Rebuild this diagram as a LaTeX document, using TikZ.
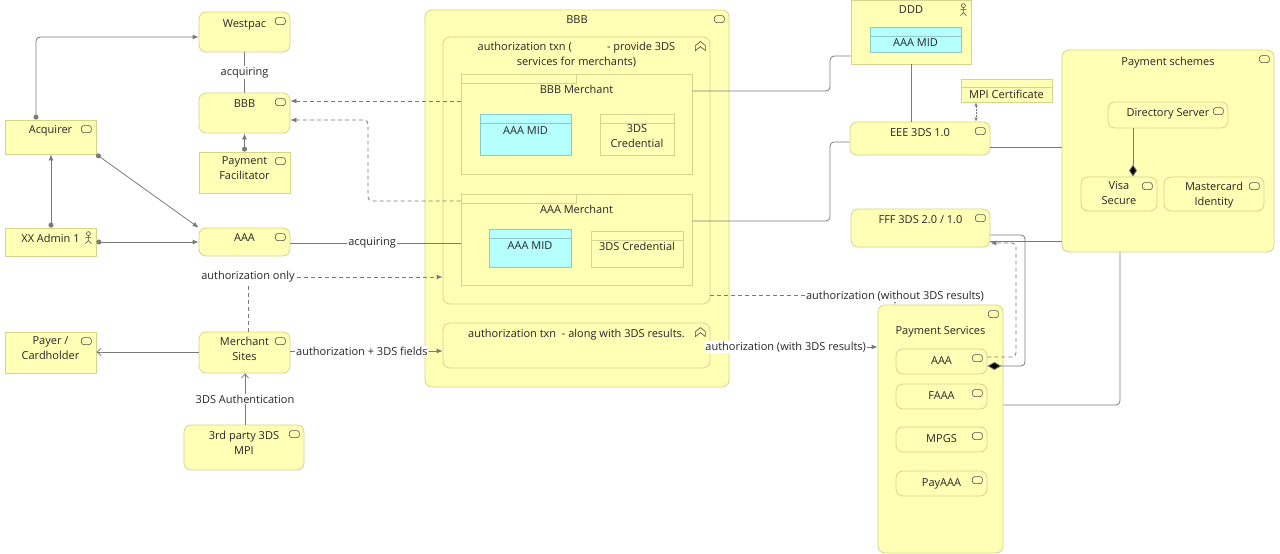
\documentclass[tikz,border=0pt]{standalone}
\usepackage{fontspec}
\setmainfont{Open Sans}
\usetikzlibrary{fit,calc,arrows.meta}
\definecolor{yel}{HTML}{FFFFB5}
\definecolor{yb}{HTML}{D4D48C}
\definecolor{cy}{HTML}{B5FFFF}
\definecolor{cb}{HTML}{8CC8C8}
\definecolor{ln}{HTML}{7A7A7A}
\tikzset{
  x=1pt,y=-1pt,
  base/.style={draw=yb,fill=yel,inner sep=0pt,line width=0.8pt},
  rbox/.style={base,rounded corners=7pt},
  sbox/.style={base},
  cbox/.style={draw=cb,fill=cy,inner sep=0pt,line width=0.8pt},
  txt/.style={font=\fontsize{11}{15}\selectfont,align=center,text=black!85,inner sep=1pt},
  icon/.style={draw=black!70,line width=0.6pt,fill=none},
  con/.style={draw=ln,line width=0.8pt,rounded corners=4pt},
  dsh/.style={con,dashed,dash pattern=on 4pt off 3pt},
  tip/.style={-{Latex[length=6pt,width=5pt]}},
  dot/.style={{Circle[length=5pt]}-{Latex[length=6pt,width=5pt]}},
  lbl/.style={txt,fill=white,inner sep=1pt},
}
\newcommand\bx[8]{\node[#6,fit={(#2,#3)(#4,#5)}] (#1) {};
  \node[txt,anchor=north] at ($(#1.north)+(0,#8+4)$) {#7};}
\newcommand\svc[1]{\draw[icon,rounded corners=2.5pt] ($(#1.north east)+(-15,6)$) rectangle ++(10,7);}
\newcommand\actor[1]{\begin{scope}[shift={($(#1.north east)+(-8,4)$)}]
 \draw[icon] (0,2) circle (2); \draw[icon] (0,4)--(0,9) (-3,6)--(3,6) (-3,12)--(0,9)--(3,12);\end{scope}}
\newcommand\func[1]{\draw[icon] ($(#1.north east)+(-15,14)$) -- ++(0,-5) -- ++(5,-4) -- ++(5,4) -- ++(0,5) -- ++(-5,-4) -- cycle;}
\newcommand\tab[3]{\draw[draw=yb,line width=0.8pt] (#1) rectangle (#2,#3);}
\begin{document}
\begin{tikzpicture}
\useasboundingbox (0,0) rectangle (1280,554);
\bx{wp}{199}{12}{290}{52}{rbox}{Westpac}{3}\svc{wp}
\bx{bbs}{199}{93}{290}{133}{rbox}{BBB}{2}\svc{bbs}
\bx{pf}{199}{152}{290}{193}{sbox}{Payment\\Facilitator}{0}\svc{pf}
\bx{acq}{5}{120}{96}{154}{sbox}{Acquirer}{1}\svc{acq}
\bx{xx}{5}{228}{96}{256}{sbox}{XX Admin 1}{1}\actor{xx}
\bx{aaa}{199}{228}{290}{256}{rbox}{AAA}{1}\svc{aaa}
\bx{pay}{5}{332}{96}{373}{sbox}{Payer /\\Cardholder}{0}\svc{pay}
\bx{ms}{199}{332}{290}{373}{rbox}{Merchant\\Sites}{0}\svc{ms}
\bx{mpi}{184}{425}{304}{470}{rbox}{3rd party 3DS\\MPI}{1}\svc{mpi}
\bx{big}{425}{10}{729}{387}{rbox}{BBB}{1}\svc{big}
\bx{grp}{443}{37}{710}{304}{rbox}{authorization txn (\hspace{3.2em}- provide 3DS\\services for merchants)}{0}\func{grp}
\bx{bm}{461}{74}{692}{174}{sbox}{BBB Merchant}{6}\tab{461,74}{576}{83}
\bx{bmid}{480}{114}{571}{155}{cbox}{AAA MID}{8}\draw[draw=cb,line width=0.8pt](480,123)--(571,123);
\bx{bcr}{600}{114}{674}{155}{sbox}{3DS\\Credential}{6}\draw[draw=yb,line width=0.8pt](600,123)--(674,123);
\bx{am}{461}{194}{692}{285}{sbox}{AAA Merchant}{6}\tab{461,194}{576}{203}
\bx{amid}{489}{229}{571}{267}{cbox}{AAA MID}{8}\draw[draw=cb,line width=0.8pt](489,238)--(571,238);
\bx{acr}{591}{231}{683}{267}{sbox}{3DS Credential}{6}\draw[draw=yb,line width=0.8pt](591,240)--(683,240);
\bx{grp2}{443}{323}{710}{368}{rbox}{authorization txn \ - along with 3DS results.}{1}\func{grp2}
\bx{ddd}{851}{0}{971}{64}{sbox}{DDD}{1}\actor{ddd}
\bx{dmid}{870}{27}{961}{52}{cbox}{AAA MID}{7}\draw[draw=cb,line width=0.8pt](870,36)--(961,36);
\bx{cert}{961}{79}{1052}{102}{sbox}{MPI Certificate}{6}\draw[draw=yb,line width=0.8pt](961,87)--(1052,87);
\bx{eee}{850}{122}{990}{155}{rbox}{EEE 3DS 1.0}{2}\svc{eee}
\bx{fff}{851}{209}{990}{247}{rbox}{FFF 3DS 2.0 / 1.0}{2}\svc{fff}
\bx{ps}{1062}{50}{1274}{252}{rbox}{Payment schemes}{2}\svc{ps}
\bx{ds}{1108}{102}{1228}{128}{rbox}{Directory Server}{2}\svc{ds}
\bx{visa}{1081}{177}{1157}{211}{rbox}{Visa\\Secure}{0}\svc{visa}
\bx{mc}{1164}{177}{1264}{211}{rbox}{Mastercard\\Identity}{0}\svc{mc}
\bx{psv}{878}{305}{1003}{553}{rbox}{Payment Services}{17}\svc{psv}
\bx{p1}{896}{349}{987}{374}{rbox}{AAA}{3}\svc{p1}
\bx{p2}{896}{384}{987}{409}{rbox}{FAAA}{3}\svc{p2}
\bx{p3}{896}{427}{987}{452}{rbox}{MPGS}{3}\svc{p3}
\bx{p4}{896}{471}{987}{496}{rbox}{PayAAA}{3}\svc{p4}
\draw[con,dot] (acq.north -| 36,0) -- (36,37) -- (wp.west |- 0,37);
\draw[con] (wp.south) -- node[lbl]{acquiring} (bbs.north);
\draw[con,dot] (pf.north) -- (bbs.south);
\draw[con,dot] (xx.north -| 51,0) -- (acq.south -| 51,0);
\draw[con,dot] (acq.south east) -- (aaa.north west);
\draw[con,dot] (xx.east) -- (aaa.west |- xx.east);
\draw[con] (aaa.east |- 0,243) -- node[lbl,pos=0.48]{acquiring} (am.west |- 0,243);
\draw[dsh,tip] (bm.west |- 0,101) -- (bbs.east |- 0,101);
\draw[dsh,tip] (am.west |- 0,201) -- (368,201) -- (368,120) -- (bbs.east |- 0,120);
\coordinate (ao) at (248,277);
\draw[dsh] (ms.north -| 248,0) -- (ao);
\draw[dsh,tip] (ao) -- (grp.west |- ao);
\node[lbl] at (ao) {authorization only};
\draw[con,-{Straight Barb[length=4pt,width=7pt]}] (ms.west |- 0,352) -- (pay.east |- 0,352);
\draw[con,-{Straight Barb[length=4pt,width=7pt]}] (mpi.north -| 245,0) -- node[lbl]{3DS Authentication} (ms.south -| 245,0);
\draw[con,tip] (ms.east |- 0,351) -- node[lbl,pos=0.47]{authorization + 3DS fields} (grp2.west |- 0,351);
\draw[con] (bm.east |- 0,91) -- (830,91) -- (830,56) -- (ddd.west |- 0,56);
\draw[con] (am.east |- 0,221) -- (830,221) -- (830,142) -- (eee.west |- 0,142);
\draw[con] (ddd.south -| 911,0) -- (eee.north -| 911,0);
\draw[draw=ln,line width=0.8pt,dash pattern=on 1.5pt off 1.5pt,{Latex[length=4pt,width=4pt,open]}-{Latex[length=4pt,width=4pt,open]}] (cert.south -| 976,0) -- (eee.north -| 976,0);
\draw[con] (eee.east |- 0,147) -- (ps.west |- 0,147);
\draw[con] (fff.east |- 0,241) -- (ps.west |- 0,241);
\draw[con,-{Diamond[length=12pt,width=8pt,fill=black]}] (ds.south -| 1133,0) -- (visa.north -| 1133,0);
\draw[con] (ps.south -| 1120,0) -- (1120,405) -- (psv.east |- 0,405);
\draw[dsh] (grp.east |- 0,295) -- (895,295);
\draw[dsh,tip] (895,297) -- (psv.north -| 895,0);
\node[lbl] at (895,296) {authorization (without 3DS results)};
\draw[con,tip] (grp2.east |- 0,347) -- node[lbl,pos=0.45]{authorization (with 3DS results)} (psv.west |- 0,347);
\draw[con,-{Diamond[length=14pt,width=8pt,fill=black]}] (fff.east |- 0,235) -- (1025,235) -- (1025,366) -- (p1.east |- 0,366);
\draw[dsh,tip] (p1.east |- 0,357) -- (1016,357) -- (1016,243) -- (fff.east |- 0,243);
\end{tikzpicture}
\end{document}
